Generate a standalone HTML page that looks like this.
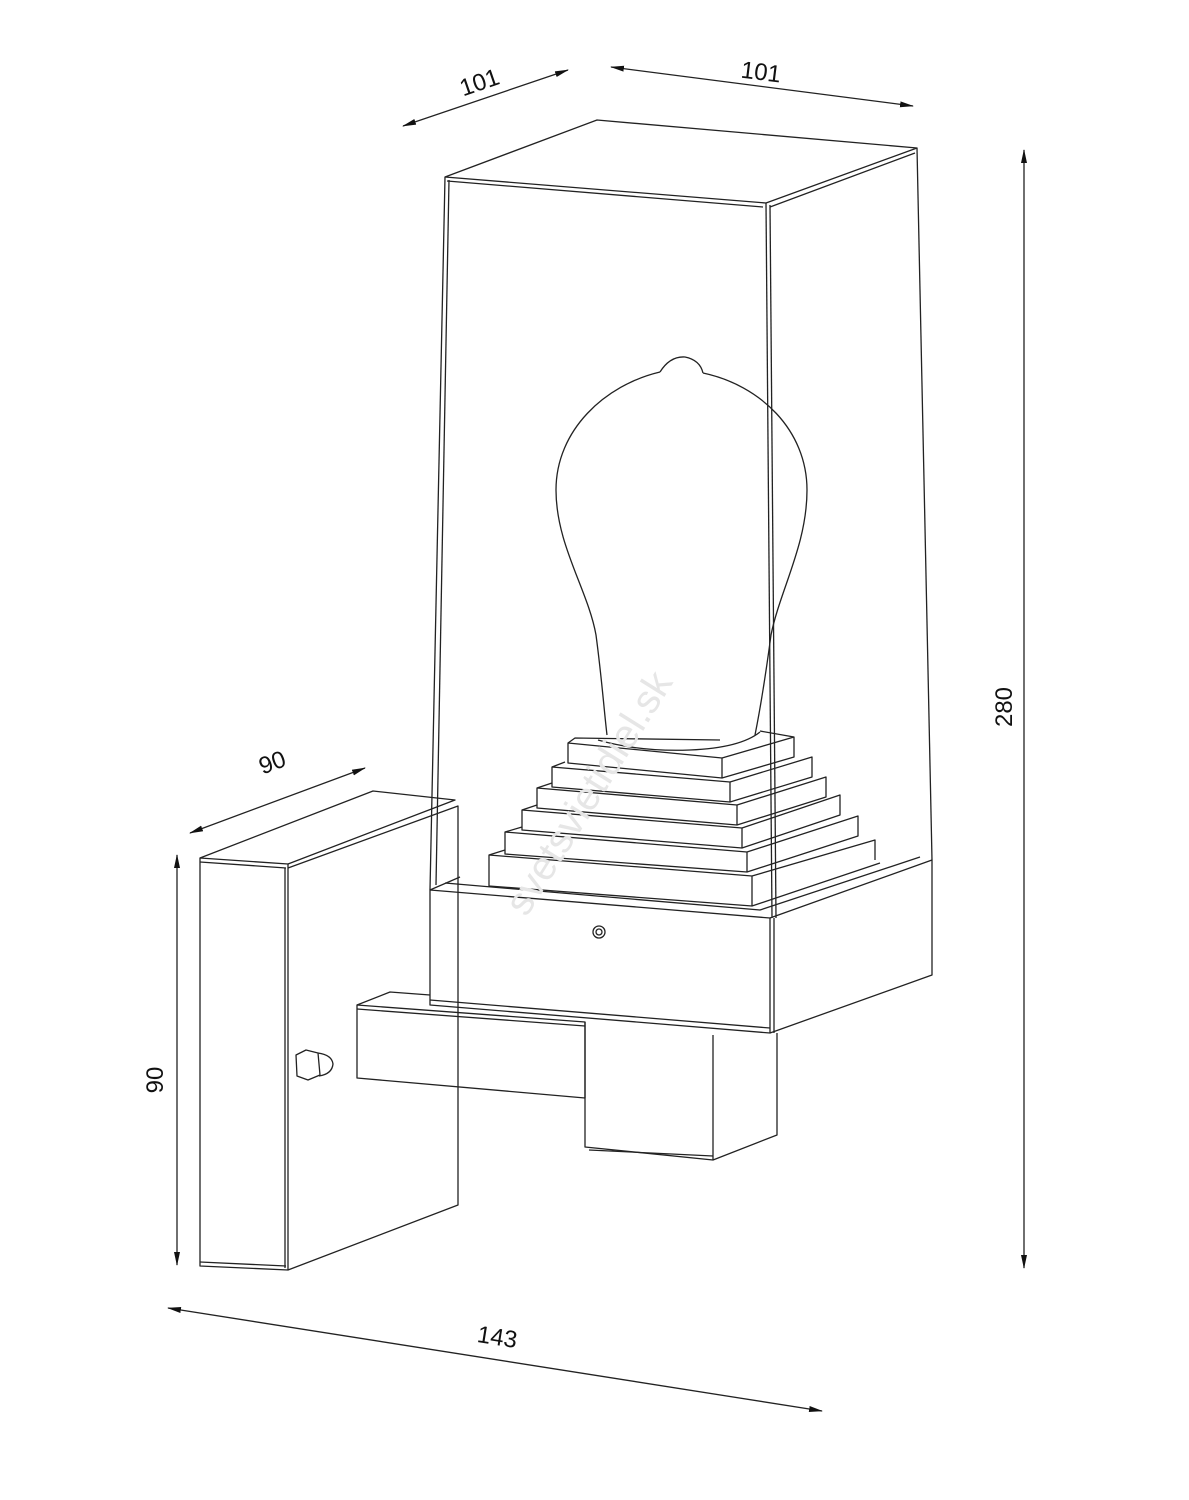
<!DOCTYPE html>
<html><head><meta charset="utf-8"><style>
html,body{margin:0;padding:0;background:#fff;}
svg{display:block;}
text{font-family:"Liberation Sans",sans-serif;font-size:24px;fill:#111;}
</style></head><body>
<svg width="1189" height="1500" viewBox="0 0 1189 1500" xmlns="http://www.w3.org/2000/svg">
<defs>
<marker id="a" markerWidth="14" markerHeight="8" refX="13" refY="4" orient="auto" markerUnits="userSpaceOnUse">
<path d="M0,1 L14,4 L0,7 z" fill="#111"/></marker>
<marker id="b" markerWidth="14" markerHeight="8" refX="1" refY="4" orient="auto" markerUnits="userSpaceOnUse">
<path d="M14,1 L0,4 L14,7 z" fill="#111"/></marker>
</defs>
<g fill="none" stroke="#222" stroke-width="1.3" stroke-linejoin="round">
<line x1="403" y1="126" x2="568" y2="70" marker-start="url(#b)" marker-end="url(#a)"/>
<line x1="611" y1="67" x2="913" y2="106" marker-start="url(#b)" marker-end="url(#a)"/>
<line x1="1024" y1="150" x2="1024" y2="1268" marker-start="url(#b)" marker-end="url(#a)"/>
<line x1="190" y1="833" x2="365" y2="768" marker-start="url(#b)" marker-end="url(#a)"/>
<line x1="177" y1="855" x2="177" y2="1265" marker-start="url(#b)" marker-end="url(#a)"/>
<line x1="168" y1="1308" x2="822" y2="1411" marker-start="url(#b)" marker-end="url(#a)"/>

<path d="M200,858 L288,864 L288,1270 L200,1266 Z"/>
<path d="M200,858 L373,791 L455,800 L288,864"/>
<path d="M288,868 L458,806 L458,1205 L288,1270"/>
<line x1="200" y1="862" x2="286" y2="868"/>
<line x1="285" y1="868" x2="285" y2="1268"/>
<line x1="200" y1="1262" x2="286" y2="1266"/>
<path d="M296,1055 L306,1050 L318,1053 L320,1075 L308,1080 L297,1076 Z"/>
<path d="M318,1053 Q332,1055 333,1064 Q332,1074 319,1076"/>

<path d="M357,1005 L585,1022 L585,1098 L357,1078 Z"/>
<path d="M357,1005 L390,992 L430,995"/>
<line x1="357" y1="1009" x2="585" y2="1026"/>
<path d="M585,1022 L585,1147 L713,1160 L777,1135 L777,1033"/>
<line x1="713" y1="1035" x2="713" y2="1160"/>
<line x1="589" y1="1150" x2="713" y2="1156"/>

<path d="M430,890 L770,918 L770,1033 L430,1005 Z"/>
<path d="M770,918 L932,860 L932,975 L770,1033"/>
<path d="M430,890 L460,877"/>
<path d="M445,883 L760,910 L920,857"/>
<line x1="430" y1="1000" x2="770" y2="1028"/>
<line x1="774" y1="918" x2="774" y2="1033"/>
<circle cx="599" cy="932" r="6"/><circle cx="599" cy="932" r="3"/>

<g>
<path d="M568,743 L722,758 L722,778 L568,763 Z M722,758 L794,737 M568,743 L575,738 L720,740 M722,778 L794,757 L794,737 L760,731"/>
<path d="M552,767 L730,782 L730,802 L552,787 Z M730,782 L812,757 L812,777 L730,802 M552,767 L565,762"/>
<path d="M537,788 L737,805 L737,825 L537,808 Z M737,805 L826,777 L826,797 L737,825 M537,788 L552,783"/>
<path d="M522,810 L742,828 L742,848 L522,830 Z M742,828 L840,795 L840,815 L742,848 M522,810 L537,805"/>
<path d="M505,832 L747,852 L747,872 L505,854 Z M747,852 L858,816 L858,836 L747,872 M505,832 L522,827"/>
<path d="M489,855 L752,876 L752,906 L489,886 Z M752,876 L875,840 L875,860 M752,906 L880,863 M489,855 L505,850"/>
</g>

<path d="M660,372 Q670,356 685,357 Q700,360 703,373"/>
<path d="M660,372 C605,385 556,430 556,490 C556,545 588,590 596,635 C602,680 604,710 607,735"/>
<path d="M703,373 C760,385 807,430 807,490 C807,545 780,590 771,635 C765,680 760,710 755,735"/>
<path d="M598,740 Q640,752 690,750 Q740,748 760,732"/>

<path d="M445,177 L597,120 L917,148 L766,203 Z"/>
<line x1="445" y1="177" x2="430" y2="890"/>
<line x1="449" y1="180" x2="436" y2="885"/>
<line x1="766" y1="203" x2="772" y2="918"/>
<line x1="770" y1="205" x2="776" y2="918"/>
<line x1="917" y1="148" x2="932" y2="860"/>
<line x1="447" y1="181" x2="763" y2="207"/>
<line x1="770" y1="207" x2="915" y2="153"/>
</g>
<text transform="translate(482,90) rotate(-19)" text-anchor="middle">101</text>
<text transform="translate(760,80) rotate(7)" text-anchor="middle">101</text>
<text transform="translate(1012,707) rotate(-90)" text-anchor="middle">280</text>
<text transform="translate(275,770) rotate(-20)" text-anchor="middle">90</text>
<text transform="translate(163,1080) rotate(-90)" text-anchor="middle">90</text>
<text transform="translate(496,1345) rotate(9)" text-anchor="middle">143</text>
<text transform="translate(600,800) rotate(-58)" text-anchor="middle" style="font-size:40px;fill:#e6e6e6">svetsvietidiel.sk</text>
</svg>
</body></html>
